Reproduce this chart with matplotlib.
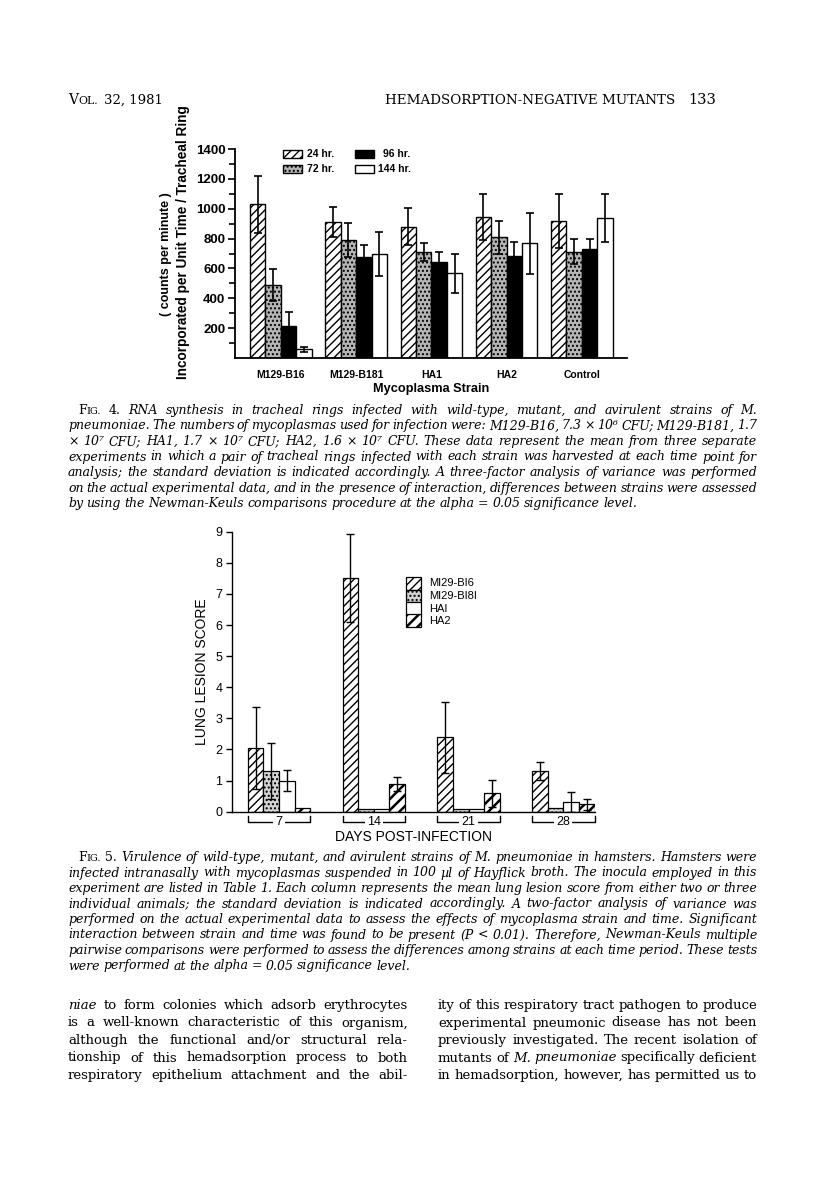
import numpy as np
import matplotlib
matplotlib.use("Agg")
import matplotlib.pyplot as plt
from matplotlib.patches import Rectangle
from matplotlib import transforms

W, H = 816, 1192

# Fig. 4 data (RNA synthesis, counts per minute)
strains = ["M129-B16", "M129-B181", "HA1", "HA2", "Control"]
times = ["24 hr.", "72 hr.", "96 hr.", "144 hr."]
rna_24 = [1030, 913, 880, 942, 918]
rna_24_sd = [190, 100, 122, 154, 178]
rna_72 = [489, 790, 708, 808, 712]
rna_72_sd = [105, 115, 60, 110, 83]
rna_96 = [215, 679, 643, 683, 728]
rna_96_sd = [90, 78, 65, 92, 69]
rna_144 = [58, 699, 567, 768, 936]
rna_144_sd = [18, 147, 132, 205, 160]

# Fig. 5 data (lung lesion score)
days = ["7", "14", "21", "28"]
lesion_strains = ["MI29-BI6", "MI29-BI8I", "HAI", "HA2"]
b16 = [2.06, 7.52, 2.40, 1.31]
b16_sd = [1.32, 1.41, 1.14, 0.30]
b181 = [1.31, 0.10, 0.10, 0.12]
b181_sd = [0.89, 0, 0, 0]
ha1 = [1.00, 0.10, 0.10, 0.32]
ha1_sd = [0.34, 0, 0, 0.32]
ha2 = [0.11, 0.90, 0.59, 0.24]
ha2_sd = [0, 0.23, 0.43, 0.17]

fig = plt.figure(figsize=(W / 100, H / 100), dpi=100)
fig.patch.set_facecolor("white")


def box(l, t, r, b):
    return [l / W, 1 - b / H, (r - l) / W, (b - t) / H]


def fx(x):
    return x / W


def fy(y):
    return 1 - y / H


SANS = "Liberation Sans"
SERIF = "DejaVu Serif"

styles = [
    dict(facecolor="white", hatch="////", edgecolor="black"),
    dict(facecolor="#b5b5b5", hatch="....", edgecolor="black"),
    dict(facecolor="black", edgecolor="black"),
    dict(facecolor="white", edgecolor="black"),
]

# ---------------- Fig. 4 ----------------
ax1 = fig.add_axes(box(235, 149, 627, 358))
x = np.arange(len(strains))
w = 0.205
series1 = [(rna_24, rna_24_sd), (rna_72, rna_72_sd), (rna_96, rna_96_sd), (rna_144, rna_144_sd)]
for i, (vals, sd) in enumerate(series1):
    xs = x + (i - 1.5) * w
    ax1.bar(xs, vals, w, linewidth=1.0, **styles[i])
    ax1.errorbar(xs, vals, yerr=sd, fmt="none", ecolor="black", elinewidth=1.2, capsize=3, capthick=1.2)

ax1.set_xlim(-0.61, 4.6)
ax1.set_ylim(0, 1400)
ax1.spines["top"].set_visible(False)
ax1.spines["right"].set_visible(False)
ax1.spines["left"].set_linewidth(1.3)
ax1.spines["bottom"].set_linewidth(1.3)
ax1.set_yticks([200, 400, 600, 800, 1000, 1200, 1400])
ax1.set_yticks(np.arange(100, 1400, 200), minor=True)
ax1.tick_params(axis="y", which="major", length=5, width=1.2, pad=2)
ax1.tick_params(axis="y", which="minor", length=4, width=1.2)
ax1.set_yticklabels(["200", "400", "600", "800", "1000", "1200", "1400"],
                    fontfamily=SANS, fontweight="bold", fontsize=9.5)
ax1.set_xticks(x)
ax1.set_xticklabels(strains, fontfamily=SANS, fontweight="bold", fontsize=7.5)
ax1.tick_params(axis="x", length=0, pad=9)
ax1.set_xlabel("Mycoplasma Strain", fontfamily=SANS, fontweight="bold", fontsize=9.2, labelpad=2)

fig.text(fx(183), fy(242), "Incorporated per Unit Time / Tracheal Ring", rotation=90,
         ha="center", va="center", fontfamily=SANS, fontweight="bold", fontsize=9.8)
fig.text(fx(166), fy(254), "( counts per minute )", rotation=90,
         ha="center", va="center", fontfamily=SANS, fontweight="bold", fontsize=9.0)

# legend of Fig. 4
leg_pos = [(283, 150), (283, 165), (355, 150), (355, 165)]
leg_txt_x = [307, 307, 383, 378]
for i, (lx, ly) in enumerate(leg_pos):
    r = Rectangle((fx(lx), fy(ly + 8)), 19 / W, 8 / H, transform=fig.transFigure,
                  linewidth=1.0, **styles[i])
    fig.add_artist(r)
    fig.text(fx(leg_txt_x[i]), fy(ly + 4), times[i], ha="left", va="center",
             fontfamily=SANS, fontweight="bold", fontsize=7.5)

# ---------------- Fig. 5 ----------------
ax2 = fig.add_axes(box(232, 531.7, 595, 811.7))
x2 = np.arange(len(days))
w2 = 0.165
styles2 = [
    dict(facecolor="white", hatch="////", edgecolor="black"),
    dict(facecolor="#d4d4d4", hatch="....", edgecolor="black"),
    dict(facecolor="white", edgecolor="black"),
    dict(facecolor="white", hatch="///", edgecolor="black"),
]
series2 = [(b16, b16_sd), (b181, b181_sd), (ha1, ha1_sd), (ha2, ha2_sd)]
for i, (vals, sd) in enumerate(series2):
    xs = x2 + (i - 1.5) * w2
    bars = ax2.bar(xs, vals, w2, linewidth=0.9, **styles2[i])
    if i == 3:
        for p in bars:
            if hasattr(p, "set_hatch_linewidth"):
                p.set_hatch_linewidth(1.8)
    keep = [j for j in range(len(vals)) if sd[j] > 0]
    ax2.errorbar(xs[keep], np.array(vals)[keep], yerr=np.array(sd)[keep], fmt="none",
                 ecolor="black", elinewidth=1.0, capsize=3, capthick=1.0)

ax2.set_xlim(-0.497, 3.335)
ax2.set_ylim(0, 9)
ax2.spines["top"].set_visible(False)
ax2.spines["right"].set_visible(False)
ax2.spines["left"].set_linewidth(1.0)
ax2.spines["bottom"].set_linewidth(1.0)
ax2.set_yticks(range(10))
ax2.set_yticklabels([str(v) for v in range(10)], fontfamily=SANS, fontsize=9)
ax2.tick_params(axis="y", length=4, width=1.0, pad=3)
ax2.set_xticks([])
ax2.set_ylabel("LUNG LESION SCORE", fontfamily=SANS, fontsize=10)
ax2.yaxis.set_label_coords(-0.063, 0.5)
ax2.set_xlabel("DAYS POST-INFECTION", fontfamily=SANS, fontsize=10, labelpad=13)

trans = transforms.blended_transform_factory(ax2.transData, ax2.transAxes)
for g, lab in zip(x2, days):
    x0, x1 = g - 2 * w2, g + 2 * w2
    ax2.plot([x0, x0, x1, x1], [-0.016, -0.037, -0.037, -0.016], transform=trans,
             color="black", linewidth=1.0, clip_on=False)
    ax2.text(g, -0.037, lab, transform=trans, ha="center", va="center", fontfamily=SANS,
             fontsize=9, bbox=dict(facecolor="white", edgecolor="none", pad=1.5))

# legend of Fig. 5
for i, lab in enumerate(lesion_strains):
    top = 577 + i * 12.5
    r = Rectangle((fx(406), fy(top + 12.5)), 15 / W, 12.5 / H, transform=fig.transFigure,
                  linewidth=0.9, **styles2[i])
    fig.add_artist(r)
    if i == 3 and hasattr(r, "set_hatch_linewidth"):
        r.set_hatch_linewidth(1.8)
    fig.text(fx(429), fy(top + 6.5), lab, ha="left", va="center", fontfamily=SANS, fontsize=8)

# ---------------- page text ----------------
renderer = fig.canvas.get_renderer()


def word_width(word, style, fs):
    if style == "sc":
        return word_width(word[0], "r", fs) + word_width(word[1:].upper(), "r", fs * 0.78)
    t = fig.text(0, 0, word, fontfamily=SERIF, fontsize=fs,
                 fontstyle="italic" if style == "i" else "normal")
    wd = t.get_window_extent(renderer).width
    t.remove()
    return wd


def draw_word(px, py, word, style, fs):
    if style == "sc":
        w0 = word_width(word[0], "r", fs)
        draw_word(px, py, word[0], "r", fs)
        draw_word(px + w0, py, word[1:].upper(), "r", fs * 0.78)
        return
    fig.text(fx(px), fy(py), word, fontfamily=SERIF, fontsize=fs, ha="left", va="baseline",
             fontstyle="italic" if style == "i" else "normal")


def words_of(spans):
    out = []
    for txt, st in spans:
        for wd in txt.split():
            out.append((wd, st))
    return out


def text_line(spans, left, right, base, fs, justify=True):
    ws = words_of(spans)
    widths = [word_width(wd, st, fs) for wd, st in ws]
    space = fs * 100 / 72 * 0.28
    if justify and len(ws) > 1:
        space = (right - left - sum(widths)) / (len(ws) - 1)
    px = left
    for (wd, st), wdw in zip(ws, widths):
        draw_word(px, base, wd, st, fs)
        px += wdw + space


def fit_size(lines, width, fs, sp=0.22):
    worst = 0
    for s in lines:
        ws = words_of(s)
        nat = sum(word_width(wd, st, fs) for wd, st in ws) + sp * fs * 100 / 72 * (len(ws) - 1)
        worst = max(worst, nat / width)
    return fs / worst


# header
draw_word(68, 104, "Vol.", "sc", 10)
fig.text(fx(104), fy(104), "32, 1981", fontfamily=SERIF, fontsize=9.5, va="baseline")
fig.text(fx(385), fy(104), "HEMADSORPTION-NEGATIVE MUTANTS", fontfamily=SERIF, fontsize=9.7,
         va="baseline")
fig.text(fx(688), fy(104), "133", fontfamily=SERIF, fontsize=10.5, va="baseline")

cap4 = [
    [("Fig.", "sc"), ("4.", "r"), ("RNA synthesis in tracheal rings infected with wild-type, mutant, and avirulent strains of M.", "i")],
    [("pneumoniae. The numbers of mycoplasmas used for infection were: M129-B16, 7.3 × 10⁶ CFU; M129-B181, 1.7", "i")],
    [("× 10⁷ CFU; HA1, 1.7 × 10⁷ CFU; HA2, 1.6 × 10⁷ CFU. These data represent the mean from three separate", "i")],
    [("experiments in which a pair of tracheal rings infected with each strain was harvested at each time point for", "i")],
    [("analysis; the standard deviation is indicated accordingly. A three-factor analysis of variance was performed", "i")],
    [("on the actual experimental data, and in the presence of interaction, differences between strains were assessed", "i")],
    [("by using the Newman-Keuls comparisons procedure at the alpha = 0.05 significance level.", "i")],
]
cap5 = [
    [("Fig.", "sc"), ("5.", "r"), ("Virulence of wild-type, mutant, and avirulent strains of M. pneumoniae in hamsters. Hamsters were", "i")],
    [("infected intranasally with mycoplasmas suspended in 100 µl of Hayflick broth. The inocula employed in this", "i")],
    [("experiment are listed in Table 1. Each column represents the mean lung lesion score from either two or three", "i")],
    [("individual animals; the standard deviation is indicated accordingly. A two-factor analysis of variance was", "i")],
    [("performed on the actual experimental data to assess the effects of mycoplasma strain and time. Significant", "i")],
    [("interaction between strain and time was found to be present (P < 0.01). Therefore, Newman-Keuls multiple", "i")],
    [("pairwise comparisons were performed to assess the differences among strains at each time period. These tests", "i")],
    [("were performed at the alpha = 0.05 significance level.", "i")],
]
body_left = [
    [("niae", "i"), ("to form colonies which adsorb erythrocytes", "r")],
    [("is a well-known characteristic of this organism,", "r")],
    [("although the functional and/or structural rela-", "r")],
    [("tionship of this hemadsorption process to both", "r")],
    [("respiratory epithelium attachment and the abil-", "r")],
]
body_right = [
    [("ity of this respiratory tract pathogen to produce", "r")],
    [("experimental pneumonic disease has not been", "r")],
    [("previously investigated. The recent isolation of", "r")],
    [("mutants of", "r"), ("M. pneumoniae", "i"), ("specifically deficient", "r")],
    [("in hemadsorption, however, has permitted us to", "r")],
]

fs_cap = min(fit_size(cap4, 689, 8.5), fit_size(cap5, 689, 8.5))
for k, sp in enumerate(cap4):
    left = 78 if k == 0 else 68
    text_line(sp, left, 757, 414 + k * 15.5, fs_cap, justify=(k < len(cap4) - 1))

for k, sp in enumerate(cap5):
    left = 78 if k == 0 else 68
    text_line(sp, left, 757, 861 + k * 15.5, fs_cap, justify=(k < len(cap5) - 1))

fsb = min(fit_size(body_left, 340, 10, 0.25), fit_size(body_right, 319, 10, 0.25))
for k, sp in enumerate(body_left):
    text_line(sp, 68, 408, 1009 + k * 17.5, fsb)
for k, sp in enumerate(body_right):
    text_line(sp, 438, 757, 1009 + k * 17.5, fsb)

fig.savefig("out.png", dpi=100, facecolor="white")
